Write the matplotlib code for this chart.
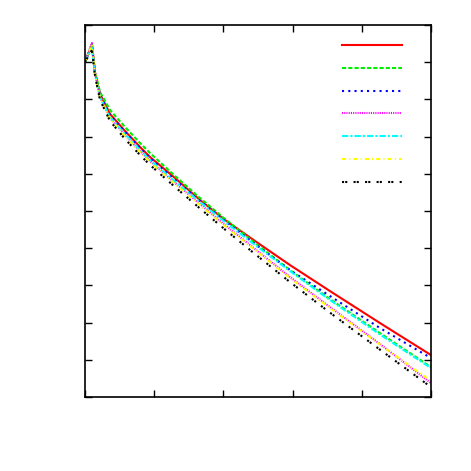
import matplotlib
matplotlib.use('Agg')
import matplotlib.pyplot as plt

# values (no labels / tick text in the original)
x = [0, 0.1, 0.145, 0.217, 0.361, 0.578, 0.795, 0.939, 1.301, 1.662,
     2.023, 2.457, 2.962, 3.54, 4.263, 5.0]

red = [9.005, 9.462, 8.710, 8.145, 7.608, 7.151, 6.720, 6.452, 5.887, 5.296,
       4.758, 4.194, 3.548, 2.849, 1.989, 1.129]
green = [9.005, 9.489, 8.737, 8.199, 7.715, 7.258, 6.828, 6.559, 5.941, 5.349,
         4.785, 4.140, 3.414, 2.634, 1.720, 0.806]
blue = [9.005, 9.435, 8.710, 8.118, 7.581, 7.124, 6.694, 6.425, 5.833, 5.269,
        4.731, 4.113, 3.414, 2.715, 1.855, 1.048]
magenta = [9.005, 9.516, 8.683, 8.065, 7.500, 7.043, 6.613, 6.344, 5.753, 5.188,
           4.624, 3.978, 3.226, 2.419, 1.425, 0.376]
cyan = [9.005, 9.382, 8.656, 8.065, 7.527, 7.070, 6.640, 6.371, 5.793, 5.242,
        4.704, 4.086, 3.387, 2.608, 1.680, 0.780]
yellow = [9.005, 9.462, 8.683, 8.038, 7.473, 7.016, 6.586, 6.317, 5.726, 5.161,
          4.597, 3.952, 3.199, 2.392, 1.411, 0.430]
black = [9.005, 9.328, 8.629, 7.984, 7.419, 6.935, 6.505, 6.237, 5.645, 5.067,
         4.503, 3.844, 3.091, 2.269, 1.274, 0.269]

xticks = [0, 1, 2, 3, 4, 5]
yticks = [0, 1, 2, 3, 4, 5, 6, 7, 8, 9, 10]

plt.rcParams['lines.scale_dashes'] = False

series = [
    (red, '#ff0000', None),
    (green, '#00ee00', (3.0, 1.5)),
    (blue, '#0000ff', (1.5, 3.0)),
    (magenta, '#ff00ff', (0.8, 0.8)),
    (cyan, '#00ffff', (4.5, 1.5, 1.5, 1.5)),
    (yellow, '#ffff00', (3.0, 2.2, 0.8, 2.2)),
    (black, '#000000', (1.5, 0.8, 1.5, 4.5)),
]

fig = plt.figure(figsize=(4.71, 4.71), dpi=100)
ax = fig.add_axes([0.1805, 0.157, 0.7345, 0.79])

handles = []
for ys, col, dash in series:
    if dash is None:
        h, = ax.plot(x, ys, color=col, lw=1.5)
    else:
        h, = ax.plot(x, ys, color=col, lw=1.5, dashes=dash)
    handles.append(h)

ax.set_xlim(0, 5)
ax.set_ylim(0, 10)
ax.set_xticks(xticks)
ax.set_yticks(yticks)
ax.tick_params(direction='in', length=5, width=1, top=True, right=True,
               labelbottom=False, labelleft=False)
for s in ax.spines.values():
    s.set_linewidth(1.2)

ax.legend(handles, [''] * len(handles), loc='upper right', frameon=False,
          handlelength=4.3, handletextpad=0.3, labelspacing=0.63,
          bbox_to_anchor=(0.965, 0.996), fontsize=10)

fig.savefig('out.png', dpi=100)
